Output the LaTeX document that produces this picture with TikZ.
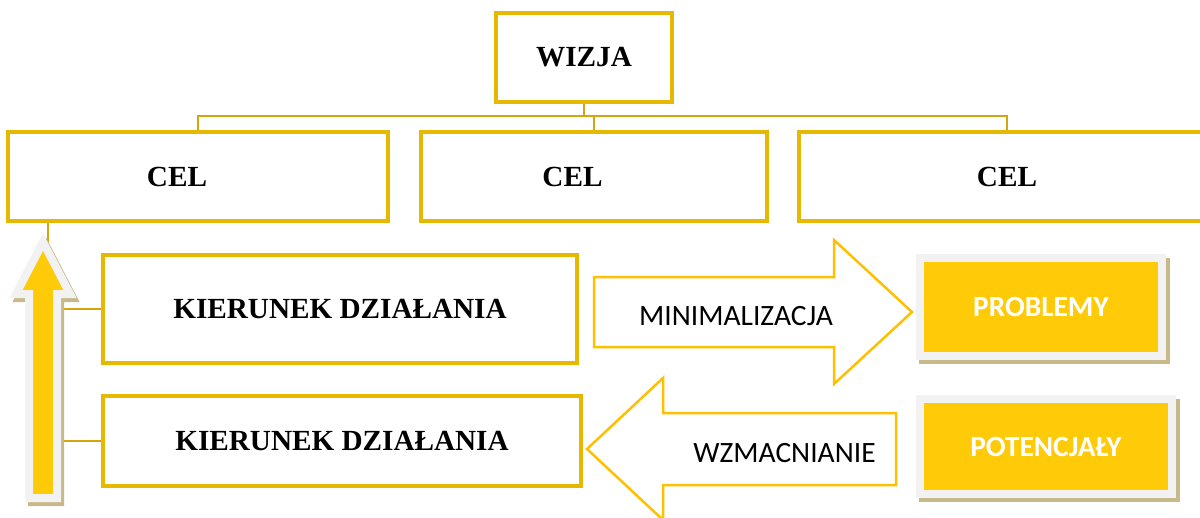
\documentclass[tikz,border=0pt]{standalone}
\usepackage{fontspec}
\setmainfont{Liberation Serif}
\newfontfamily\calfont{Carlito}
\definecolor{boxc}{HTML}{E6B800}
\definecolor{connc}{HTML}{D4A50C}
\definecolor{arrc}{HTML}{FFC000}
\definecolor{yel}{HTML}{FFCA08}
\definecolor{frm}{HTML}{F2F2F2}
\definecolor{shd}{HTML}{C7B98A}
\begin{document}
\begin{tikzpicture}[x=1pt,y=-1pt,
  box/.style={draw=boxc, line width=4pt, fill=white, inner sep=0pt},
  bold/.style={font=\fontsize{29.2}{31}\selectfont\bfseries, text=black},
  conn/.style={draw=connc, line width=2.4pt},
  outarr/.style={draw=arrc, line width=2.5pt, fill=white, line join=miter},
  ybox/.style={fill=yel, draw=frm, line width=8pt, inner sep=0pt,
     font=\calfont\fontsize{29.3}{31}\selectfont\bfseries, text=white},
  sans/.style={font=\calfont\fontsize{29.5}{31}\selectfont, text=black, inner sep=0pt}]
\useasboundingbox (0,0) rectangle (1200,517);
\clip (0,0) rectangle (1200,517);

% boxes (positions)
\path
  node[box, minimum width=172, minimum height=85] (wizja) at (584,57.5) {}
  node[box, minimum width=376, minimum height=85] (c1) at (198,176.5) {}
  node[box, minimum width=342, minimum height=85] (c2) at (594,176.5) {}
  node[box, minimum width=412, minimum height=85] (c3) at (1007,176.5) {}
  node[box, minimum width=470, minimum height=104] (k1) at (340,309) {}
  node[box, minimum width=474, minimum height=86] (k2) at (342,441) {};

% connectors
\coordinate (bus) at (584,116);
\coordinate (lv) at (48,0);
\draw[conn] (wizja.south) -- (bus) -| (c1.north);
\draw[conn] (bus) -| (c2.north);
\draw[conn] (bus) -| (c3.north);
\draw[conn] (c1.south -| lv) -- (lv |- k2.west) -- (k2.west);
\draw[conn] (lv |- k1.west) -- (k1.west);

% redraw boxes on top of connectors
\foreach \n in {wizja,c1,c2,c3,k1,k2}
  \draw[draw=boxc, line width=4pt, fill=white] (\n.north west) rectangle (\n.south east);

% texts
\node[bold] (wizjat) at (wizja.center) {WIZJA};
\node[bold] (c1t) at (177,176.5) {CEL};
\node[bold] (c2t) at (572.5,176.5) {CEL};
\node[bold] (c3t) at (c3.center) {CEL};
\node[bold] (k1t) at (k1.center) {KIERUNEK DZIAŁANIA};
\node[bold] (k2t) at (k2.center) {KIERUNEK DZIAŁANIA};

% big upward arrow
\begin{scope}[line join=miter]
\draw[draw=shd, fill=shd, line width=8pt, shift={(3,4)}]
  (43,242) -- (70,294) -- (57,294) -- (57,498) -- (29,498) -- (29,294) -- (16,294) -- cycle;
\draw[draw=frm, fill=yel, line width=8pt]
  (43,242) -- (70,294) -- (57,294) -- (57,498) -- (29,498) -- (29,294) -- (16,294) -- cycle;
\end{scope}

% block arrows
\draw[outarr] (594,277) -- (834,277) -- (834,240) -- (912,312) -- (834,384) -- (834,347) -- (594,347) -- cycle;
\draw[outarr] (896,413) -- (663,413) -- (663,378) -- (587,449) -- (663,520) -- (663,485) -- (896,485) -- cycle;
\node[sans] (mini) at (736,316) {MINIMALIZACJA};
\node[sans] (wzm) at (784.5,453) {WZMACNIANIE};

% yellow boxes with shadows
\fill[shd] (919,258) rectangle (1170,364);
\node[ybox, minimum width=242, minimum height=98] (prob) at (1041,307) {PROBLEMY};
\fill[shd] (919,399) rectangle (1180,502);
\node[ybox, minimum width=252, minimum height=95] (pot) at (1046,446.5) {POTENCJAŁY};
\end{tikzpicture}
\end{document}
